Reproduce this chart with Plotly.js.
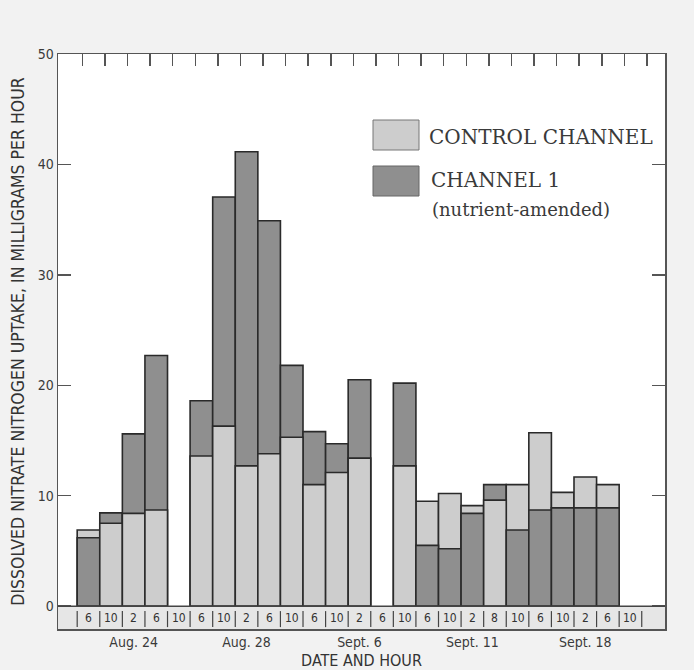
<!DOCTYPE html>
<html>
<head>
<meta charset="utf-8">
<script src="https://cdn.plot.ly/plotly-3.0.1.min.js"></script>
<style>html,body{margin:0;padding:0;background:#f2f2f2;}</style>
</head>
<body>
<div id="chart" style="width:694px;height:670px;"></div>
<script>
// Hour labels for each 4-hour slot
const hours = ["6","10","2","6","10", "6","10","2","6","10", "6","10","2","6","10", "6","10","2","8","10", "6","10","2","6","10"];
// Date labels and the slot they sit under
const dateLabels = ["Aug. 24","Aug. 28","Sept. 6","Sept. 11","Sept. 18"];
const dateSlots = [2, 7, 12, 17, 22];
// Dissolved nitrate nitrogen uptake, mg per hour
const control = [6.9, 7.5, 8.4, 8.7, null, 13.6, 16.3, 12.7, 13.8, 15.3, 11.0, 12.1, 13.4, null, 12.7, 9.5, 10.2, 9.1, 9.6, 11.0, 15.7, 10.3, 11.7, 11.0, null];
const channel1 = [6.2, 8.45, 15.6, 22.7, null, 18.6, 37.05, 41.15, 34.9, 21.8, 15.8, 14.7, 20.5, null, 20.2, 5.5, 5.2, 8.4, 11.0, 6.9, 8.7, 8.9, 8.9, 8.9, null];

const LIGHT = "#cdcdcd", DARK = "#8f8f8f", EDGE = "#2a2a2a";
const NARROW = "Liberation Sans Narrow, DejaVu Sans Condensed, Arial Narrow, sans-serif";
const SERIF = "DejaVu Serif, Liberation Serif, serif";

const slots = hours.map((_, i) => i);
const backY = [], backC = [], frontY = [], frontC = [];
slots.forEach(i => {
  const c = control[i], n = channel1[i];
  if (c == null || n == null) { backY.push(null); frontY.push(null); backC.push(LIGHT); frontC.push(LIGHT); return; }
  if (c >= n) { backY.push(c); backC.push(LIGHT); frontY.push(n); frontC.push(DARK); }
  else { backY.push(n); backC.push(DARK); frontY.push(c); frontC.push(LIGHT); }
});

const traces = [
  {type: "bar", x: slots, y: backY, width: 1, marker: {color: backC, line: {color: EDGE, width: 1.6}}, showlegend: false, hoverinfo: "skip"},
  {type: "bar", x: slots, y: frontY, width: 1, marker: {color: frontC, line: {color: EDGE, width: 1.6}}, showlegend: false, hoverinfo: "skip"}
];

const xr = [-1.35, 25.53];
const yr = [-2.07, 50];
const boundaries = hours.map((_, i) => i - 0.5).concat([hours.length - 0.5]);

const shapes = [
  {type: "rect", xref: "paper", yref: "y", x0: 0, x1: 1, y0: yr[0], y1: 0, fillcolor: "#e6e6e6", line: {width: 0}, layer: "below"},
  {type: "line", xref: "paper", yref: "y", x0: 0, x1: 1, y0: 0, y1: 0, line: {color: "#444", width: 1.5}}
];
boundaries.forEach(b => shapes.push({type: "line", xref: "x", yref: "y", x0: b, x1: b, y0: -1.9, y1: -0.45, line: {color: "#444", width: 1.2}}));

// legend boxes
function px2x(p) { return (p - 58) / 607; }
function px2y(p) { return (629 - p) / 575; }
shapes.push({type: "rect", xref: "paper", yref: "paper", x0: px2x(373), x1: px2x(419), y0: px2y(150), y1: px2y(120), fillcolor: LIGHT, line: {color: "#777", width: 1}});
shapes.push({type: "rect", xref: "paper", yref: "paper", x0: px2x(373), x1: px2x(419), y0: px2y(196), y1: px2y(166), fillcolor: DARK, line: {color: "#666", width: 1}});

const annotations = hours.map((h, i) => ({
  x: i, y: -1.08, xref: "x", yref: "y", text: h, showarrow: false,
  font: {family: NARROW, size: 12, color: "#333"}, xanchor: "center", yanchor: "middle"
}));
annotations.push({xref: "paper", yref: "paper", x: px2x(427), y: px2y(137), text: "CONTROL CHANNEL", showarrow: false, xanchor: "left", yanchor: "middle", font: {family: SERIF, size: 20, color: "#3a3a3a"}});
annotations.push({xref: "paper", yref: "paper", x: px2x(429), y: px2y(180), text: "CHANNEL 1", showarrow: false, xanchor: "left", yanchor: "middle", font: {family: SERIF, size: 20, color: "#3a3a3a"}});
annotations.push({xref: "paper", yref: "paper", x: px2x(430), y: px2y(210), text: "(nutrient-amended)", showarrow: false, xanchor: "left", yanchor: "middle", font: {family: SERIF, size: 18, color: "#3a3a3a"}});

const layout = {
  width: 694, height: 670,
  margin: {l: 58, r: 29, t: 54, b: 41},
  paper_bgcolor: "#f2f2f2", plot_bgcolor: "#ffffff",
  barmode: "overlay", bargap: 0,
  showlegend: false,
  xaxis: {
    range: xr, tickvals: dateSlots, ticktext: dateLabels, ticks: "",
    showgrid: false, zeroline: false, showline: true, linecolor: "#555", linewidth: 1.5, mirror: true,
    tickfont: {family: NARROW, size: 14, color: "#3a3a3a"},
    title: {text: "DATE AND HOUR", font: {family: NARROW, size: 16, color: "#333"}, standoff: 8},
    automargin: false
  },
  xaxis2: {
    range: xr, overlaying: "x", side: "top", tickvals: boundaries.map(b => b + 0.23),
    ticks: "inside", ticklen: 12, tickwidth: 1.5, tickcolor: "#555",
    showticklabels: false, showgrid: false, zeroline: false, showline: false
  },
  yaxis: {
    range: yr, tickvals: [0, 10, 20, 30, 40, 50], ticks: "inside", ticklen: 13, tickwidth: 1.5, tickcolor: "#555",
    showgrid: false, zeroline: false, showline: true, linecolor: "#555", linewidth: 1.5, mirror: "ticks",
    tickfont: {family: NARROW, size: 14, color: "#3a3a3a"},
    title: {text: "DISSOLVED NITRATE NITROGEN UPTAKE, IN MILLIGRAMS PER HOUR", font: {family: NARROW, size: 17.5, color: "#333"}, standoff: 8},
    automargin: false
  },
  shapes: shapes,
  annotations: annotations
};

// dummy trace for top axis ticks
traces.push({type: "scatter", x: [xr[0]], y: [null], xaxis: "x2", mode: "markers", showlegend: false, hoverinfo: "skip"});

Plotly.newPlot("chart", traces, layout, {displayModeBar: false, staticPlot: true});
</script>
</body>
</html>
